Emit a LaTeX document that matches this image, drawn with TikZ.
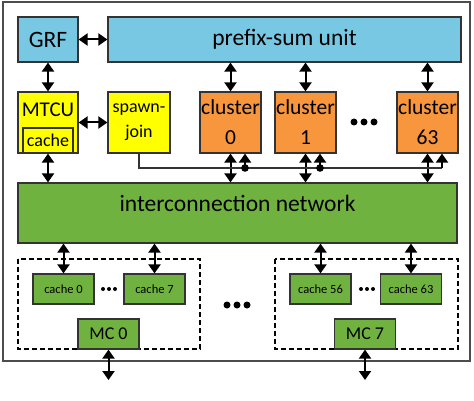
\documentclass[tikz,border=0pt]{standalone}
\usepackage{fontspec}
\setmainfont{Carlito}
\usetikzlibrary{arrows.meta,calc}
\definecolor{psblue}{RGB}{120,200,228}
\definecolor{spyellow}{RGB}{255,255,0}
\definecolor{clorange}{RGB}{247,150,60}
\definecolor{netgreen}{RGB}{112,178,64}
\newcommand{\tikzClusterNode}[3]{
  \node[org] (#1) at (#2,122.5) {cluster\\#3};
  \draw[dbl] (#1.north |- ps.south) -- (#1.north);
  \draw[dbl] (#1.south) -- (#1.south |- net.north);
  \coordinate (#1sj) at ([xshift=14.5pt]#1.south);
}
\newcommand{\tikzCacheNode}[3]{
  \node[cbox] (#1) at (#2) {#3};
  \draw[dbl] (#1.north |- net.south) -- (#1.north);
}
\begin{document}
\begin{tikzpicture}[x=1pt, y=-1pt, >={Triangle[width=12pt,length=9pt]},
  box/.style={draw=black!80, line width=1.2pt, inner sep=0pt},
  blu/.style={box, fill=psblue, minimum height=45pt, font=\fontsize{23.5}{28}\selectfont},
  ylw/.style={box, fill=spyellow},
  org/.style={box, fill=clorange, minimum width=61pt, minimum height=61pt, align=center, font=\fontsize{21.5}{30}\selectfont},
  grn/.style={box, fill=netgreen},
  cbox/.style={grn, minimum width=61pt, minimum height=30pt, font=\fontsize{12.5}{15}\selectfont},
  mcbox/.style={grn, minimum width=61pt, minimum height=30pt, font=\fontsize{18}{22}\selectfont},
  dbl/.style={<->, line width=2pt},
  up/.style={->, line width=2pt},
  bus/.style={draw=black!80, line width=1.2pt}]
  \useasboundingbox (0,0) rectangle (474,401);
  \draw[black!70, line width=1.2pt] (3,2) rectangle (470,361);

  \node[blu, minimum width=60pt] (grf) at (48,39.5) {GRF};
  \node[blu, minimum width=353pt] (ps) at (284.5,39.5) {prefix-sum unit};
  \draw[dbl] (grf) -- (ps);

  \node[ylw, minimum width=60pt, minimum height=61pt] (mtcu) at (48,122.5) {};
  \node[font=\fontsize{21}{25}\selectfont] (mtcutext) at (48,110) {MTCU};
  \node[ylw, minimum width=50pt, minimum height=25pt, font=\fontsize{18}{22}\selectfont] (mcache) at (48,140.5) {cache};
  \draw[dbl] (grf) -- (mtcu);

  \node[ylw, minimum width=62pt, minimum height=61pt, align=center, font=\fontsize{18}{25}\selectfont] (sj) at (139,122.5) {spawn-\\join};
  \draw[dbl] (mtcu) -- (sj);

  \node[grn, minimum width=439pt, minimum height=60pt] (net) at (237.5,213) {};
  \node[font=\fontsize{23.5}{28}\selectfont] (nettext) at (237.5,203) {interconnection network};
  \draw[dbl] (mtcu.south) -- (mtcu.south |- net.north);

  \tikzClusterNode{cl0}{230.5}{0}
  \tikzClusterNode{cl1}{305.5}{1}
  \tikzClusterNode{cl63}{427.5}{63}
  \foreach \x in {354,364,374} \fill (\x,122) circle (3.5pt);

  \coordinate (bus) at (0,168);
  \draw[bus] (sj.south) |- (cl63sj |- bus);
  \draw[up] (cl63sj |- bus) -- (cl63sj);
  \draw[up] (cl0sj |- bus) -- (cl0sj);
  \fill (cl0sj |- bus) circle (3.8pt);
  \draw[up] (cl1sj |- bus) -- (cl1sj);
  \fill (cl1sj |- bus) circle (3.8pt);

  \draw[dashed, line width=1.2pt, dash pattern=on 5pt off 3pt] (18,259) rectangle (200,349);
  \draw[dashed, line width=1.2pt, dash pattern=on 5pt off 3pt] (275,259) rectangle (458,349);

  \tikzCacheNode{c0}{63.5,289}{cache 0}
  \tikzCacheNode{c7}{154.5,289}{cache 7}
  \tikzCacheNode{c56}{320.5,289}{cache 56}
  \tikzCacheNode{c63}{411,289}{cache 63}
  \foreach \x in {103,109,115} \fill (\x,289) circle (2pt);
  \foreach \x in {361,367,373} \fill (\x,289) circle (2pt);
  \foreach \x in {227,237,247} \fill (\x,305) circle (3.5pt);

  \node[mcbox] (mc0) at (108.5,334) {MC 0};
  \node[mcbox] (mc7) at (365,334) {MC 7};
  \coordinate (mem0) at (108.5,380);
  \coordinate (mem7) at (365,380);
  \draw[dbl] (mc0) -- (mem0);
  \draw[dbl] (mc7) -- (mem7);
\end{tikzpicture}
\end{document}
